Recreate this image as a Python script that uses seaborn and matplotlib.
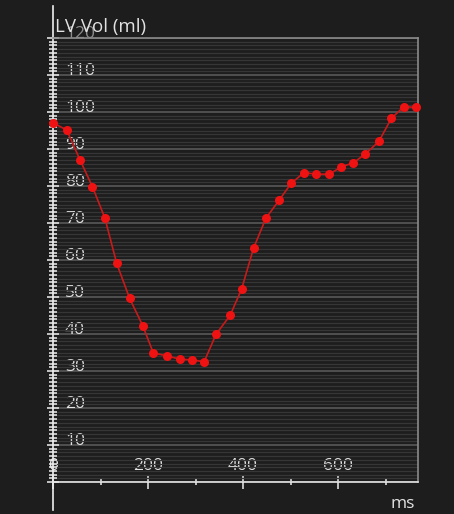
import numpy as np
import pandas as pd
import matplotlib
matplotlib.use("Agg")
import matplotlib.pyplot as plt
from matplotlib.ticker import MultipleLocator
import seaborn as sns

# LV volume curve, one point per frame
t_ms = [0, 29, 57, 83, 109, 134, 161, 189, 211, 239, 267, 292, 318, 343, 373,
        397, 422, 448, 476, 501, 528, 554, 581, 606, 632, 657, 686, 712, 738, 763]
vol_ml = [97.1, 95.1, 87.0, 79.8, 71.4, 59.1, 49.7, 42.2, 34.9, 34.1, 33.2, 33.0,
          32.5, 39.9, 45.1, 52.2, 63.2, 71.3, 76.2, 80.7, 83.6, 83.2, 83.2, 85.1,
          86.3, 88.6, 92.1, 98.3, 101.4, 101.3]

y_ticks = [0, 10, 20, 30, 40, 50, 60, 70, 80, 90, 100, 110, 120]
y_labels = ["", "10", "20", "30", "40", "50", "60", "70", "80", "90", "100", "110", "120"]
x_ticks = [0, 200, 400, 600]
x_labels = ["0", "200", "400", "600"]

bg = "#1d1d1d"
fg = "#e2e2e2"

sns.set_theme(style="dark", rc={"figure.facecolor": bg, "axes.facecolor": bg,
                                "savefig.facecolor": bg})
plt.rcParams["font.family"] = ["Open Sans", "DejaVu Sans"]

df = pd.DataFrame({"t": t_ms, "vol": vol_ml})

fig = plt.figure(figsize=(4.54, 5.14), dpi=100)
ax = fig.add_axes([53 / 454, 32 / 514, 365 / 454, 444 / 514])

# striped background: fine lines every ml, brighter every 10 ml
ax.yaxis.set_minor_locator(MultipleLocator(1))
ax.xaxis.set_minor_locator(MultipleLocator(100))
ax.grid(axis="y", which="minor", color="#363636", lw=0.9)
ax.grid(axis="y", which="major", color="#5e5e5e", lw=1.1)
ax.grid(axis="x", visible=False)
ax.set_axisbelow(True)

sns.lineplot(data=df, x="t", y="vol", ax=ax, color="#c81a1a", linewidth=1.2,
             marker="o", markersize=6.5, markeredgewidth=0,
             markerfacecolor="#ee1212", clip_on=False, zorder=5)

ax.set_xlim(0, 768)
ax.set_ylim(0, 120)
ax.set_yticks(y_ticks, y_labels)
ax.set_xticks(x_ticks, x_labels)

ax.tick_params(axis="both", which="both", direction="inout", color="#eeeeee",
               labelcolor=fg, labelsize=12.5, width=1.1, left=True, bottom=True)
ax.tick_params(axis="y", which="major", length=8.5, pad=-8.6 - 4.25)
ax.tick_params(axis="y", which="minor", length=5.5)
ax.tick_params(axis="x", which="major", length=10, pad=-8.6 - 5)
ax.tick_params(axis="x", which="minor", length=5)

for lab in ax.get_yticklabels():
    lab.set_ha("left")
    lab.set_va("baseline")
for lab in ax.get_xticklabels():
    lab.set_va("baseline")
ax.get_yticklabels()[-1].set_color("#8c8c8c")

for side in ["top", "right"]:
    ax.spines[side].set_color("#8a8a8a")
    ax.spines[side].set_linewidth(1.2)
ax.spines["bottom"].set_color("#e6e6e6")
ax.spines["bottom"].set_linewidth(1.2)
ax.spines["left"].set_color("#eeeeee")
ax.spines["left"].set_linewidth(1.2)
ax.spines["left"].set_bounds(-7.6, 128.6)

ax.set_ylabel("LV Vol (ml)", rotation=0, ha="left", va="baseline",
              color=fg, fontsize=13.5)
ax.yaxis.set_label_coords(0.005, 1.014)
ax.set_xlabel("ms", ha="right", va="baseline", color=fg, fontsize=12.5)
ax.xaxis.set_label_coords(0.992, -0.059)

fig.savefig("out.png", dpi=100, facecolor=bg)
